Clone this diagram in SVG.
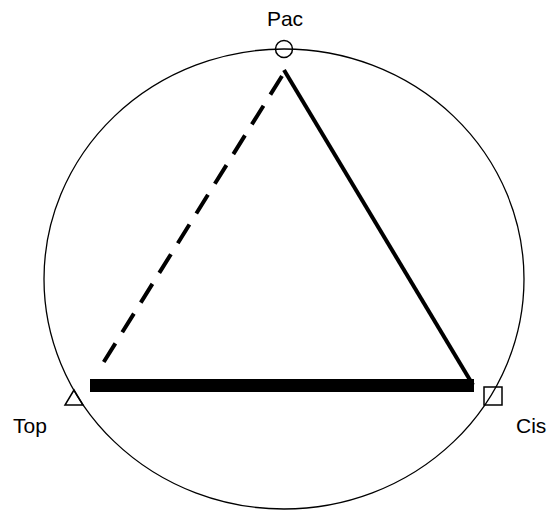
<svg xmlns="http://www.w3.org/2000/svg" width="552" height="510" viewBox="0 0 552 510">
<style>
.lbl{font-family:"Liberation Sans",Arial,sans-serif;font-size:21px;fill:#000}
.thin{fill:none;stroke:#000;stroke-width:1.3}
.mark{fill:none;stroke:#000;stroke-width:1.5}
</style>
<rect width="552" height="510" fill="#fff"/>
<ellipse class="thin" cx="284" cy="279" rx="240" ry="230"/>
<g id="connectors" stroke="#000" fill="none">
<line x1="282" y1="76" x2="100" y2="368" stroke-width="4" stroke-dasharray="22,13"/>
<line x1="284" y1="70" x2="473" y2="385" stroke-width="4"/>
<line x1="90" y1="385.5" x2="474" y2="385.5" stroke-width="13"/>
</g>
<g id="Pac">
<circle class="mark" cx="284" cy="49" r="8.5"/>
<text class="lbl" x="285" y="26" text-anchor="middle">Pac</text>
</g>
<g id="Top">
<polygon class="mark" points="74,390 65,405 83,405"/>
<text class="lbl" x="13" y="433">Top</text>
</g>
<g id="Cis">
<rect class="mark" x="484" y="387" width="18" height="18"/>
<text class="lbl" x="516" y="433">Cis</text>
</g>
</svg>
